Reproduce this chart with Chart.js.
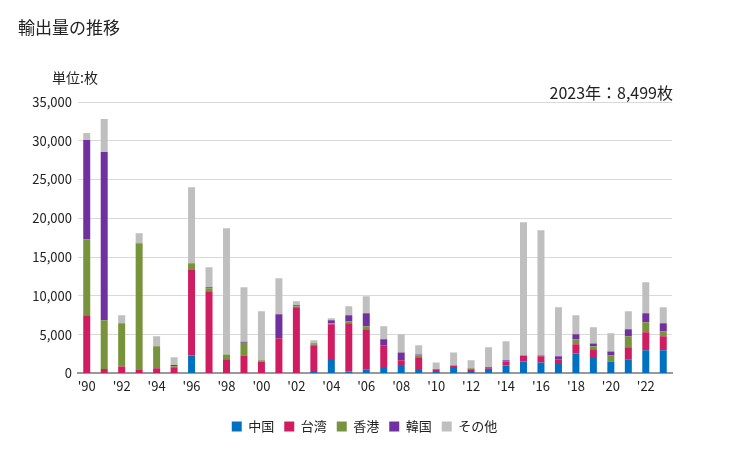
<!DOCTYPE html>
<html>
<head>
<meta charset="utf-8">
<script src="https://cdn.jsdelivr.net/npm/chart.js@4/dist/chart.umd.min.js"></script>
<style>
  body { margin: 0; background: #fff; font-family: "Noto Sans CJK JP", sans-serif; }
  #wrap { position: relative; width: 729px; height: 450px; }
  .txt { position: absolute; color: #222; white-space: nowrap; }
</style>
</head>
<body>
<div id="wrap">
  <canvas id="export-chart" width="729" height="450"></canvas>
  <div class="txt" style="left:18px; top:14px; font-size:17px;">輸出量の推移</div>
  <div class="txt" style="left:52px; top:67px; font-size:14px;">単位:枚</div>
  <div class="txt" style="right:56px; top:80px; font-size:16px;">2023年：8,499枚</div>
</div>
<script>
const years = ['1990','1991','1992','1993','1994','1995','1996','1997','1998','1999',
    '2000','2001','2002','2003','2004','2005','2006','2007','2008','2009',
    '2010','2011','2012','2013','2014','2015','2016','2017','2018','2019',
    '2020','2021','2022','2023'];

const china  = [0, 0, 0, 0, 0, 0, 2320, 0, 0, 0,
    0, 0, 0, 170, 1720, 260, 520, 690, 950, 430,
    170, 690, 170, 430, 1030, 1550, 1420, 1210, 2580, 1980,
    1460, 1810, 2970, 2970];
const taiwan = [7500, 560, 900, 430, 650, 780, 11020, 10590, 1810, 2320,
    1510, 4520, 8520, 3450, 4610, 6200, 5160, 2930, 730, 1640,
    350, 340, 350, 220, 520, 770, 780, 600, 1170, 1120,
    90, 1550, 2330, 1810];
const hongkong = [9800, 6280, 5560, 16360, 2840, 150, 860, 390, 640, 1640,
    170, 0, 130, 130, 130, 260, 390, 0, 0, 250,
    0, 0, 130, 0, 0, 0, 0, 0, 640, 390,
    770, 1420, 1290, 640];
const korea  = [12800, 21700, 0, 0, 0, 150, 0, 130, 0, 130,
    0, 3100, 130, 120, 380, 770, 1680, 770, 1030, 130,
    0, 0, 0, 130, 130, 0, 120, 390, 650, 380,
    520, 900, 1160, 1040];
const others = [900, 4260, 1030, 1290, 1290, 1000, 9820, 2580, 16280, 7020,
    6330, 4650, 520, 390, 260, 1160, 2190, 1680, 2330, 1170,
    900, 1680, 1030, 2580, 2450, 17180, 16150, 6320, 2450, 2070,
    2330, 2330, 4000, 2079];

const yTicks = [0, 5000, 10000, 15000, 20000, 25000, 30000, 35000];

const font = "'Noto Sans CJK JP', sans-serif";

const ctx = document.getElementById('export-chart').getContext('2d');
const myChart = new Chart(ctx, {
    type: 'bar',
    data: {
        labels: years,
        datasets: [
            {label: '中国', data: china, backgroundColor: '#0070C0'},
            {label: '台湾', data: taiwan, backgroundColor: '#D01C60'},
            {label: '香港', data: hongkong, backgroundColor: '#77933C'},
            {label: '韓国', data: korea, backgroundColor: '#7030A0'},
            {label: 'その他', data: others, backgroundColor: '#BFBFBF'}
        ]
    },
    options: {
        responsive: false,
        animation: false,
        layout: {padding: {top: 102, right: 0, bottom: 7, left: 0}},
        datasets: {bar: {categoryPercentage: 1, barPercentage: 0.4}},
        plugins: {
            legend: {
                position: 'bottom',
                labels: {
                    boxWidth: 10, boxHeight: 10, padding: 10,
                    color: '#222',
                    font: {family: font, size: 13}
                }
            },
            tooltip: {enabled: false}
        },
        scales: {
            x: {
                stacked: true,
                grid: {display: false},
                border: {color: '#999', width: 2},
                afterFit: function(scale) { scale.height += 19; },
                ticks: {
                    autoSkip: false, maxRotation: 0, color: '#222', padding: -3,
                    font: {family: font, size: 13},
                    callback: function(v, i) {
                        const y = years[i];
                        return (Number(y) % 2 === 0) ? "'" + y.slice(2) : '';
                    }
                }
            },
            y: {
                stacked: true,
                min: 0, max: 35000,
                afterBuildTicks: function(scale) {
                    scale.ticks = yTicks.map(function(v) { return {value: v}; });
                },
                afterFit: function(scale) { scale.width = 78; },
                grid: {color: '#d9d9d9', drawTicks: false},
                border: {display: false},
                ticks: {
                    color: '#222', padding: 6,
                    font: {family: font, size: 13},
                    callback: function(v) { return v.toLocaleString('en-US'); }
                }
            },
            yRight: {
                position: 'right',
                afterFit: function(scale) { scale.width = 57; },
                grid: {display: false},
                border: {display: false},
                ticks: {display: false}
            }
        }
    }
});
</script>
</body>
</html>
